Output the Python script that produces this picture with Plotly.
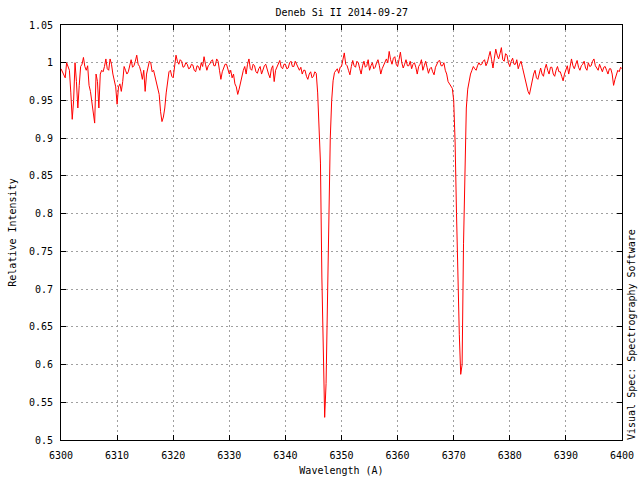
import numpy as np
import plotly.graph_objects as go

# relative intensity sampled every 0.25 A from 6300 to 6400 (one row = 5 A)
grid_start = 6300.0
grid_step = 0.25
intensity = [
    0.992, 0.988, 0.985, 0.980, 1.000, 0.994, 0.990, 0.960, 0.925, 0.950,
    1.000, 0.975, 0.940, 0.970, 0.995, 0.998, 1.007, 0.995, 0.990, 0.996,
    0.970, 0.962, 0.945, 0.930, 0.920, 0.985, 0.975, 0.940, 0.985, 0.990,
    0.988, 0.995, 1.005, 0.992, 0.990, 1.005, 0.998, 0.985, 0.975, 0.968,
    0.945, 0.968, 0.972, 0.962, 0.975, 0.995, 0.990, 0.985, 0.988, 0.998,
    1.004, 0.994, 0.996, 1.002, 1.010, 0.998, 0.995, 0.988, 0.978, 0.990,
    0.962, 0.985, 0.993, 1.002, 1.000, 0.988, 0.990, 0.982, 0.975, 0.968,
    0.958, 0.935, 0.922, 0.928, 0.940, 0.960, 0.975, 0.988, 0.990, 0.982,
    0.980, 0.995, 1.010, 1.002, 0.998, 1.004, 1.002, 0.994, 0.995, 1.000,
    0.998, 0.992, 0.993, 0.998, 0.997, 0.990, 0.988, 0.996, 0.995, 0.990,
    1.000, 0.995, 1.008, 0.998, 0.990, 0.996, 0.998, 1.002, 1.004, 0.996,
    0.996, 1.005, 1.002, 0.990, 0.978, 0.988, 0.992, 0.998, 0.998, 0.990,
    0.985, 0.990, 0.980, 0.985, 0.972, 0.968, 0.958, 0.965, 0.975, 0.985,
    0.990, 0.995, 0.985, 0.998, 1.005, 0.992, 0.990, 0.998, 0.996, 0.988,
    0.986, 0.992, 0.995, 0.985, 0.990, 0.996, 0.998, 0.990, 0.985, 0.980,
    0.992, 0.996, 0.975, 0.990, 0.995, 1.000, 1.003, 0.994, 0.992, 0.998,
    0.998, 0.992, 0.993, 1.000, 1.002, 0.995, 0.995, 1.002, 0.998, 0.992,
    0.990, 0.994, 0.985, 0.990, 0.990, 0.982, 0.978, 0.985, 0.988, 0.980,
    0.982, 0.988, 0.986, 0.960, 0.915, 0.867, 0.716, 0.636, 0.530, 0.575,
    0.696, 0.840, 0.900, 0.950, 0.976, 0.987, 0.990, 0.992, 0.986, 0.994,
    0.995, 1.006, 1.013, 0.998, 0.996, 0.990, 0.984, 0.995, 1.003, 0.996,
    0.994, 1.002, 1.000, 0.992, 0.985, 0.996, 1.002, 0.994, 0.996, 1.004,
    0.990, 0.996, 1.000, 0.992, 0.994, 1.000, 1.004, 0.996, 0.985, 0.992,
    0.996, 1.002, 1.005, 1.000, 1.015, 1.004, 0.998, 1.006, 1.008, 0.998,
    0.995, 1.004, 1.014, 1.000, 0.993, 0.998, 1.004, 0.996, 0.996, 1.002,
    0.992, 0.998, 1.000, 0.994, 0.985, 0.995, 0.998, 1.004, 0.990, 0.996,
    1.002, 0.994, 0.986, 0.992, 0.994, 0.988, 0.984, 0.994, 0.998, 1.002,
    1.003, 0.996, 0.996, 1.000, 0.990, 0.985, 0.975, 0.972, 0.970, 0.966,
    0.950, 0.895, 0.800, 0.700, 0.640, 0.587, 0.600, 0.760, 0.860, 0.940,
    0.965, 0.978, 0.985, 0.990, 0.995, 0.992, 0.990, 0.996, 1.000, 0.997,
    0.998, 1.002, 1.004, 0.996, 1.000, 1.008, 1.015, 1.004, 0.993, 1.006,
    1.018, 1.010, 1.005, 1.012, 1.020, 1.004, 1.002, 1.012, 1.010, 1.000,
    0.995, 1.002, 1.006, 0.998, 0.998, 1.004, 0.992, 0.998, 1.002, 0.994,
    0.985, 0.978, 0.970, 0.962, 0.958, 0.968, 0.975, 0.985, 0.990, 0.980,
    0.978, 0.988, 0.993, 0.985, 0.982, 0.992, 0.998, 0.990, 0.985, 0.994,
    0.994, 0.985, 0.982, 0.990, 0.995, 0.988, 0.988, 0.982, 0.976, 0.985,
    0.990, 0.996, 0.985, 0.994, 1.005, 0.996, 0.992, 0.998, 1.003, 0.994,
    0.990, 0.996, 0.998, 1.002, 0.993, 0.990, 1.000, 0.995, 0.996, 1.002,
    1.005, 0.996, 0.992, 0.990, 0.998, 0.994, 0.988, 0.994, 0.995, 0.990,
    0.985, 0.992, 0.992, 0.985, 0.970, 0.978, 0.985, 0.990, 0.988, 0.994,
    0.992,
]

y_ticks = [0.5, 0.55, 0.6, 0.65, 0.7, 0.75, 0.8, 0.85, 0.9, 0.95, 1.0, 1.05]
y_labels = ["0.5", "0.55", "0.6", "0.65", "0.7", "0.75", "0.8", "0.85",
            "0.9", "0.95", "1", "1.05"]
x_ticks = [6300, 6310, 6320, 6330, 6340, 6350, 6360, 6370, 6380, 6390, 6400]

wl = grid_start + grid_step * np.arange(len(intensity))

font = dict(family="DejaVu Sans Mono, monospace", size=10, color="black")

fig = go.Figure()
fig.add_trace(go.Scatter(
    x=wl, y=intensity,
    mode='lines',
    line=dict(color='rgb(255, 0, 0)', width=1),
    showlegend=False,
))

axis_common = dict(
    showline=True, linecolor='black', linewidth=1, mirror='ticks',
    ticks='inside', ticklen=5, tickcolor='black',
    showgrid=True, gridcolor='rgb(160, 160, 160)', gridwidth=1,
    griddash='2px,3px', zeroline=False, tickfont=font, automargin=False,
)

fig.update_xaxes(range=[6300, 6400], tickvals=x_ticks, ticklabelstandoff=6,
                 title=dict(text="Wavelength (A)", font=font, standoff=6),
                 **axis_common)
fig.update_yaxes(range=[0.5, 1.05], tickvals=y_ticks, ticktext=y_labels,
                 ticklabelstandoff=5,
                 title=dict(text="Relative Intensity", font=font, standoff=10),
                 **axis_common)

fig.add_annotation(
    text="Visual Spec: Spectrography Software",
    xref='paper', yref='paper', x=1, y=0,
    xanchor='left', yanchor='bottom', xshift=2, yshift=-2,
    textangle=-90, showarrow=False, font=font,
)

fig.update_layout(
    width=640, height=480,
    title=dict(text="Deneb Si II 2014-09-27", x=0.534, xanchor='center',
               y=0.973, yanchor='middle', font=font),
    margin=dict(l=61, r=18, t=25, b=40, pad=0),
    plot_bgcolor='white', paper_bgcolor='white',
    font=font,
)

# page body has a default 8px margin; drop it so the figure sits at 0,0
fig.write_html("out.html", config={'displayModeBar': False},
               post_script="document.body.style.margin='0px';")
